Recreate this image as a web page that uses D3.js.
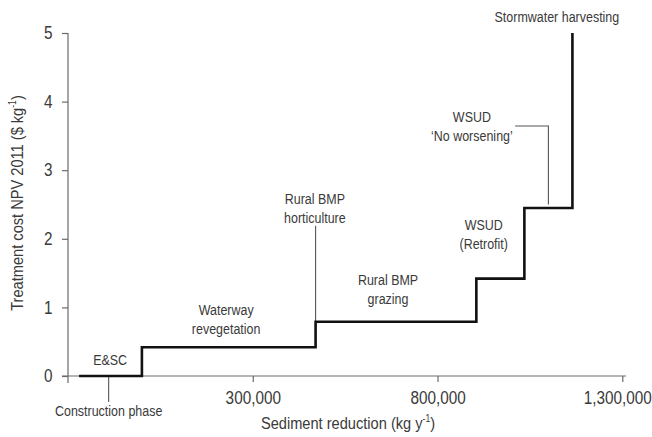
<!DOCTYPE html>
<html>
<head>
<meta charset="utf-8">
<script src="https://cdn.jsdelivr.net/npm/d3@7"></script>
<style>
  html, body { margin: 0; padding: 0; background: #fff; }
  svg { display: block; font-family: "Liberation Sans", Arial, Helvetica, sans-serif; }
</style>
</head>
<body>
<svg id="chart" width="652" height="437"></svg>
<script>
// ---- data ----
const stepStarts = [-170000, 0, 470000, 905000, 1035000, 1165000]; // sediment reduction (kg/y) where each cost level begins
const stepCosts  = [0, 0.42, 0.79, 1.42, 2.45, 5.0];                 // treatment cost ($/kg)
const xTickValues = [300000, 800000, 1300000];
const yTickValues = [0, 1, 2, 3, 4, 5];

// annotation labels (anchor of first line, data coordinates)
const labelText = [
  ["E&SC"],
  ["Construction phase"],
  ["Waterway", "revegetation"],
  ["Rural BMP", "horticulture"],
  ["Rural BMP", "grazing"],
  ["WSUD", "(Retrofit)"],
  ["WSUD", "\u2018No worsening\u2019"],
  ["Stormwater harvesting"]
];
const labelX = [-86000, -90000, 228000, 468000, 666000, 925000, 893000, 1123000];
const labelY = [0.23, -0.50, 0.96, 2.58, 1.40, 2.20, 3.775, 5.233];

// leader lines (data coordinates)
const leaders = [
  [[-90000, 0], [-90000, -0.38]],
  [[470000, 2.19], [470000, 0.79]],
  [[1010000, 3.644], [1100000, 3.644], [1100000, 2.50]]
];

// ---- layout / style ----
const svg = d3.select("#chart");
const x = d3.scaleLinear().domain([-200000, 1310000]).range([68, 626]);
const y = d3.scaleLinear().domain([0, 5]).range([376, 33]);
const axisColor = "#6a6a6a";
const textColor = "#3a3a3a";
const narrow = 0.86;       // horizontal condensing of the font
const lineGap = 19;

// axes
const xAxis = d3.axisBottom(x).tickValues(xTickValues)
  .tickFormat(d3.format(",")).tickSizeInner(6).tickSizeOuter(0).tickPadding(9);
const gx = svg.append("g").attr("transform", `translate(0,${y(0)})`).call(xAxis);
gx.select(".domain").remove();
gx.selectAll(".tick line").attr("stroke", axisColor).attr("stroke-width", 1.2);
gx.selectAll(".tick text").attr("fill", textColor).attr("font-size", 17.8)
  .attr("font-family", "Liberation Sans, Arial, sans-serif")
  .attr("transform", (d, i, n) => `translate(${i === n.length - 1 ? -5 : 0},0) scale(${narrow},1)`);

const yPad = 9.5, yTick = 6;
const yAxis = d3.axisLeft(y).tickValues(yTickValues).tickFormat(d3.format("d"))
  .tickSizeInner(yTick).tickSizeOuter(0).tickPadding(yPad);
const gy = svg.append("g").attr("transform", `translate(${x(-200000)},0)`).call(yAxis);
gy.select(".domain").remove();
gy.selectAll(".tick line").attr("stroke", axisColor).attr("stroke-width", 1.2);
gy.selectAll(".tick text").attr("fill", textColor).attr("font-size", 17.8)
  .attr("font-family", "Liberation Sans, Arial, sans-serif")
  .attr("x", -(yPad + yTick) / narrow)
  .attr("transform", `scale(${narrow},1)`);

// axis lines (slightly extended past the range like the original)
svg.append("line")
  .attr("x1", x.range()[0] - 6).attr("x2", x.range()[1])
  .attr("y1", y(0)).attr("y2", y(0))
  .attr("stroke", axisColor).attr("stroke-width", 1.2);
svg.append("line")
  .attr("x1", x(-200000)).attr("x2", x(-200000))
  .attr("y1", y(5)).attr("y2", y(0) + 7)
  .attr("stroke", axisColor).attr("stroke-width", 1.2);

// leader lines
const leaderLine = d3.line().x(d => x(d[0])).y(d => y(d[1]));
svg.selectAll("path.leader").data(leaders).join("path")
  .attr("class", "leader")
  .attr("d", leaderLine)
  .attr("fill", "none").attr("stroke", "#555").attr("stroke-width", 1.1);

// step line
const stepData = stepStarts.map((s, i) => [s, stepCosts[i]]);
svg.append("path")
  .datum(stepData)
  .attr("d", d3.line().x(d => x(d[0])).y(d => y(d[1])).curve(d3.curveStepAfter))
  .attr("fill", "none").attr("stroke", "#111").attr("stroke-width", 2.6)
  .attr("stroke-linejoin", "miter");

// annotation labels
labelText.forEach((lines, i) => {
  lines.forEach((ln, j) => {
    svg.append("text")
      .attr("transform", `translate(${x(labelX[i])},${y(labelY[i]) + j * lineGap}) scale(${narrow},1)`)
      .attr("dy", "0.36em")
      .attr("text-anchor", "middle")
      .attr("font-size", 14.5).attr("fill", textColor)
      .text(ln);
  });
});

// axis titles
const xt = svg.append("text")
  .attr("transform", `translate(348,429) scale(${narrow},1)`)
  .attr("text-anchor", "middle").attr("font-size", 17).attr("fill", textColor);
xt.append("tspan").text("Sediment reduction (kg y");
xt.append("tspan").attr("font-size", 10).attr("dy", -7).text("-1");
xt.append("tspan").attr("dy", 7).text(")");

const yt = svg.append("text")
  .attr("transform", `translate(23,203) rotate(-90) scale(${narrow},1)`)
  .attr("text-anchor", "middle").attr("font-size", 17).attr("fill", textColor);
yt.append("tspan").text("Treatment cost NPV 2011 ($ kg");
yt.append("tspan").attr("font-size", 10).attr("dy", -7).text("-1");
yt.append("tspan").attr("dy", 7).text(")");
</script>
</body>
</html>
